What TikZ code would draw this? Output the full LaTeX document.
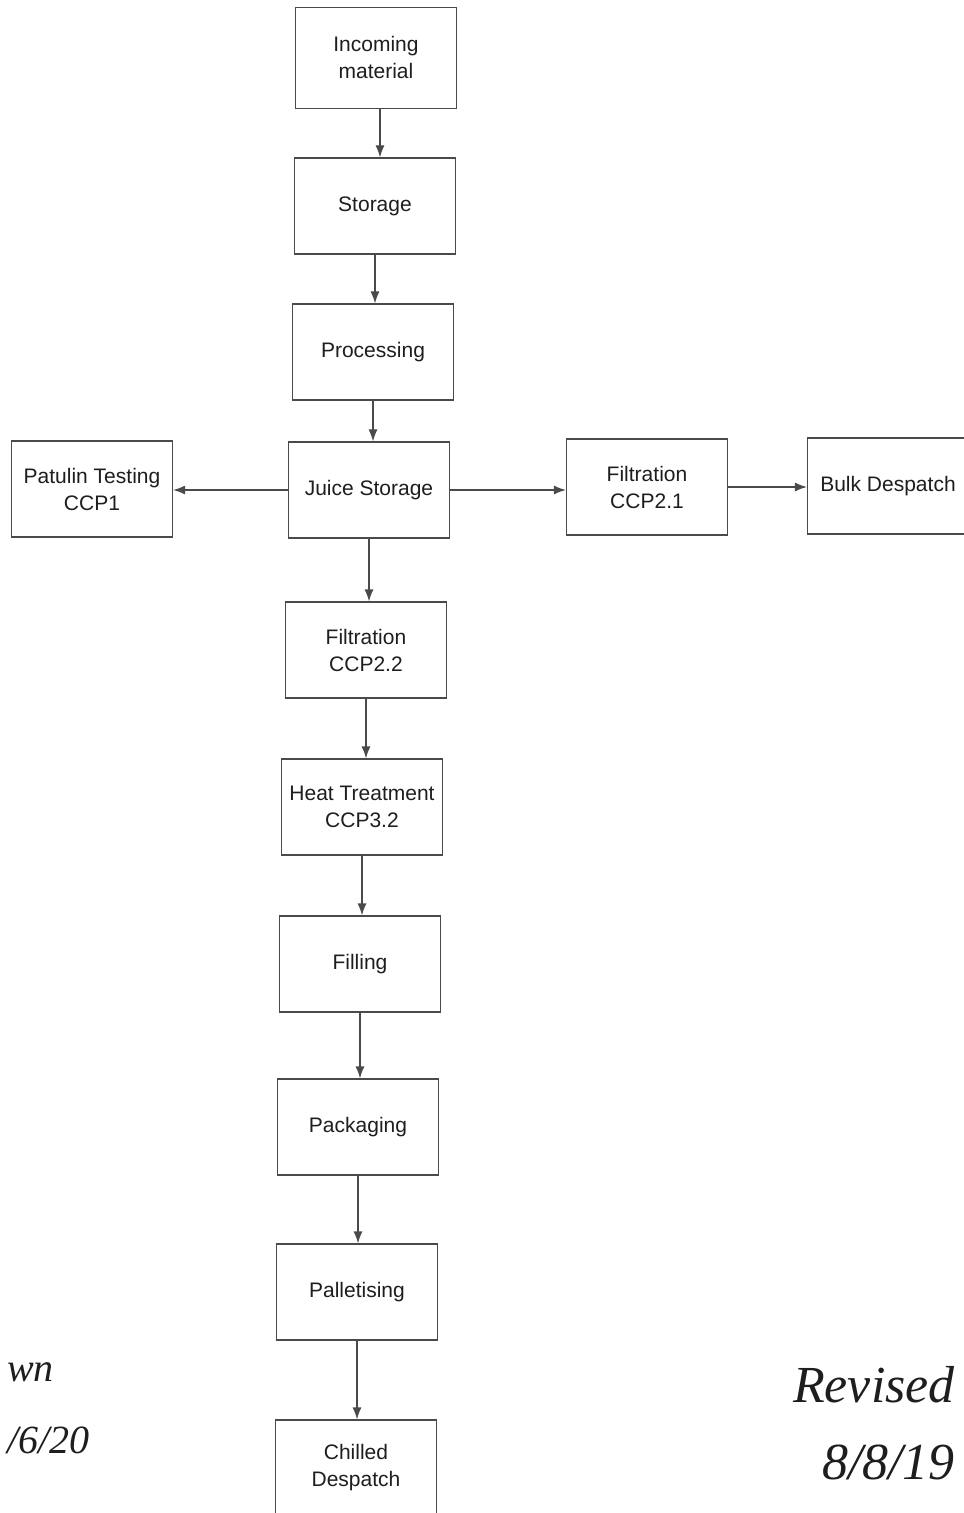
\documentclass[tikz,border=0pt]{standalone}
\usepackage{fontspec}
\setmainfont{Liberation Sans}
\newfontfamily\handfont{Liberation Serif}
\usetikzlibrary{shapes,arrows,arrows.meta,positioning,calc}
\definecolor{boxline}{HTML}{4A4A4A}
\definecolor{inktext}{HTML}{1E1E1E}
\tikzset{
block/.style = {draw=boxline, fill=white, rectangle, align = center, line width=0.6pt,
  minimum width=80.5pt, minimum height=48pt, inner sep=1pt, text=inktext,
  font=\fontsize{10.5}{13.5}\selectfont},
flow/.style = {draw=boxline, line width=0.6pt},
scrawl/.style = {text=inktext, font=\handfont\itshape\fontsize{20}{22}\selectfont, anchor=west},
}
\begin{document}
\begin{tikzpicture}[x=0.5pt, y=-0.5pt, auto, node distance=74pt, >={Latex[length=6pt,width=4.5pt]}]
      \useasboundingbox (0,0) rectangle (963,1513);
      \node [block, minimum height=50.5pt] (incoming) at (376,58) {Incoming\\material};
      \node [block, below of = incoming, xshift=-0.5pt] (storage) {Storage};
      \node [block, below of = storage, node distance = 73pt, xshift=-1pt] (proc) {Processing};
      \node [block, below of = proc, node distance = 69pt, xshift=-2pt] (juice) {Juice Storage};
      \node [block] (patulin) at (92,489) {Patulin Testing\\CCP1};
      \node [block] (filtA) at (647,487) {Filtration\\CCP2.1};
      \node [block, right of = filtA, node distance = 120.5pt, yshift=0.5pt] (bulk) {Bulk Despatch};
      \node [block, below of = juice, node distance = 80pt, xshift=-1.5pt] (filtB) {Filtration\\CCP2.2};
      \node [block, below of = filtB, node distance = 78.5pt, xshift=-2pt] (heat) {Heat Treatment\\CCP3.2};
      \node [block, below of = heat, node distance = 78.5pt, xshift=-1pt] (filling) {Filling};
      \node [block, below of = filling, node distance = 81.5pt, xshift=-1pt] (pack) {Packaging};
      \node [block, below of = pack, node distance = 82.5pt, xshift=-0.5pt] (pallet) {Palletising};
      \node [block, below of = pallet, node distance = 88pt, xshift=-0.5pt] (chilled) {Chilled\\Despatch};
      \coordinate [right = 2pt of incoming.south] (incomingout);
      % main line
      \draw [flow,->] (incomingout) -- (incomingout |- storage.north);
      \draw [flow,->] (storage.south) -- (storage.south |- proc.north);
      \draw [flow,->] (proc.south) -- (proc.south |- juice.north);
      \draw [flow,->] (juice.south) -- (juice.south |- filtB.north);
      \draw [flow,->] (filtB.south) -- (filtB.south |- heat.north);
      \draw [flow,->] (heat.south) -- (heat.south |- filling.north);
      \draw [flow,->] (filling.south) -- (filling.south |- pack.north);
      \draw [flow,->] (pack.south) -- (pack.south |- pallet.north);
      \draw [flow,->] (pallet.south) -- (pallet.south |- chilled.north);
      % side branches
      \draw [flow,->] (juice.west) -- (juice.west -| patulin.east);
      \draw [flow,->] (juice.east) -- (juice.east -| filtA.west);
      \draw [flow,->] (filtA.east) -- (filtA.east -| bulk.west);
      % handwritten notes
      \node [scrawl] (signL) at (0,1372) {wn};
      \node [scrawl] (dateL) at (0,1440) {/6/20};
      \node [scrawl, font=\handfont\itshape\fontsize{26}{28}\selectfont] (revised) at (786,1385) {Revised};
      \node [scrawl, font=\handfont\itshape\fontsize{26}{28}\selectfont] (dateR) at (815,1462) {8/8/19};
\end{tikzpicture}
\end{document}
